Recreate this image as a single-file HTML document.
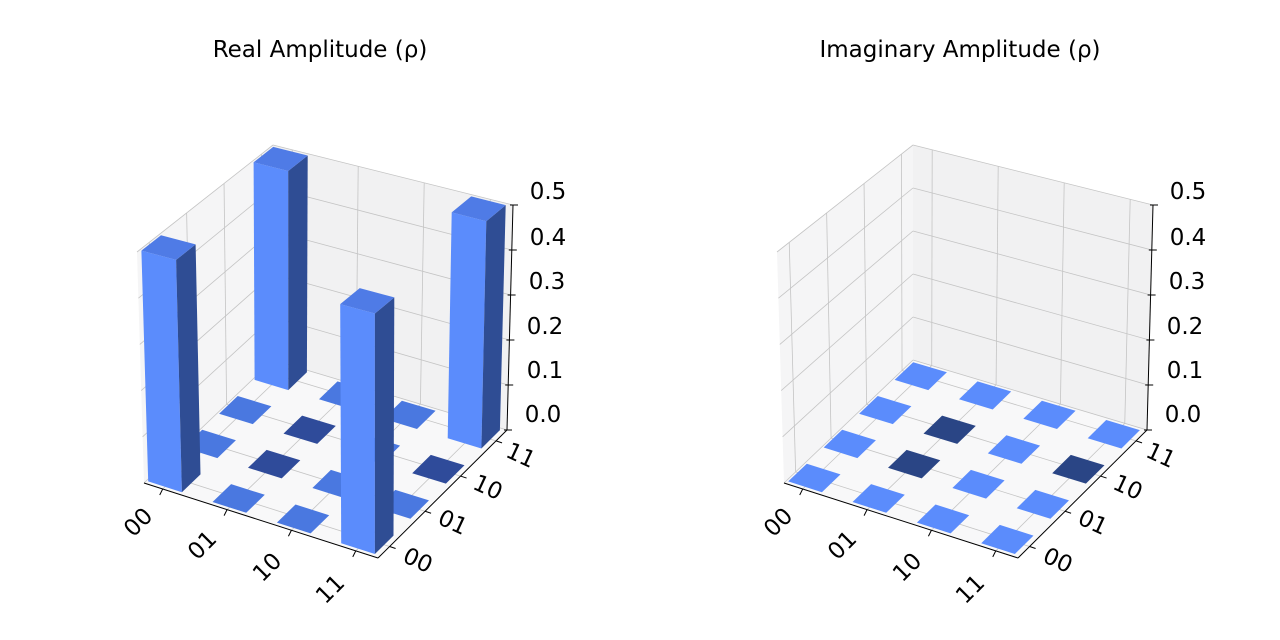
<!DOCTYPE html>
<html><head><meta charset="utf-8"><style>
html,body{margin:0;padding:0;background:#fff}
svg{display:block}
text{font-family:"DejaVu Sans","Liberation Sans",sans-serif;fill:#000}
</style></head><body>
<svg id="s" width="1280" height="640" xmlns="http://www.w3.org/2000/svg">
<rect width="1280" height="640" fill="#fff"/>
<text x="320" y="57" font-size="23" text-anchor="middle">Real Amplitude (ρ)</text>
<text x="960" y="57" font-size="23" text-anchor="middle">Imaginary Amplitude (ρ)</text>
</svg>
<script>
const S=document.getElementById('s');
function el(t,a,txt){const e=document.createElementNS('http://www.w3.org/2000/svg',t);for(const k in a)e.setAttribute(k,a[k]);if(txt!==undefined)e.textContent=txt;S.appendChild(e);return e;}
function plot(ox,bars,tiles){
 const F={FL:[784,483],FR:[1018,558],BR:[1147,430],BL:[913,360]};
 const T={FL:[777,252],FR:[1018,317],BR:[1153,205],BL:[913,145]};
 function bil(C,u,v){const a=C.FL,b=C.FR,c=C.BR,d=C.BL;
  return [(1-u)*(1-v)*a[0]+u*(1-v)*b[0]+u*v*c[0]+(1-u)*v*d[0]-640+ox,(1-u)*(1-v)*a[1]+u*(1-v)*b[1]+u*v*c[1]+(1-u)*v*d[1]];}
 function P(u,v,z){const f=bil(F,u,v),t=bil(T,u,v);const k=z/0.5;return [f[0]+(t[0]-f[0])*k,f[1]+(t[1]-f[1])*k];}
 function poly(pts,fill,extra){el('polygon',Object.assign({points:pts.map(p=>p.map(n=>n.toFixed(1)).join(',')).join(' '),fill:fill},extra||{}));}
 function line(a,b,st,w){el('line',{x1:a[0],y1:a[1],x2:b[0],y2:b[1],stroke:st,'stroke-width':w||0.8});}
 poly([P(0,0,0),P(0,1,0),P(0,1,.5),P(0,0,.5)],'#f5f5f6');
 poly([P(0,1,0),P(1,1,0),P(1,1,.5),P(0,1,.5)],'#f1f1f2');
 poly([P(0,0,0),P(1,0,0),P(1,1,0),P(0,1,0)],'#f8f8f9');
 const ut=[0.08,0.355,0.63,0.905], vt=[0.09,0.365,0.64,0.915], zt=[0,.1,.2,.3,.4,.5];
 const g='#c4c4c4';
 ut.forEach(u=>{line(P(u,0,0),P(u,1,0),g);line(P(u,1,0),P(u,1,.5),g);});
 vt.forEach(v=>{line(P(0,v,0),P(1,v,0),g);line(P(0,v,0),P(0,v,.5),g);});
 zt.forEach(z=>{line(P(0,0,z),P(0,1,z),g);line(P(0,1,z),P(1,1,z),g);});
 line(P(0,0,0),P(1,0,0),'#000',1);
 line(P(1,0,0),P(1,1,0),'#000',1);
 line(P(1,1,0),P(1,1,.5),'#000',1);
 ut.forEach(u=>{const a=P(u,0,0);line(a,[a[0]-3,a[1]+6],'#000',1);});
 vt.forEach(v=>{const a=P(1,v,0);line(a,[a[0]+6,a[1]+2],'#000',1);});
 zt.forEach(z=>{const a=P(1,1,z);line([a[0]-3,a[1]],[a[0]+5,a[1]],'#000',1);});
 const hw=0.072;
 const items=[];
 for(let j=3;j>=0;j--)for(let i=0;i<4;i++){items.push([i,j]);}
 items.forEach(([i,j])=>{
  const cu=ut[i],cv=vt[j],u0=cu-hw,u1=cu+hw,v0=cv-hw,v1=cv+hw;
  const key=i+','+j;
  if(bars[key]){const h=bars[key];
   poly([P(u0,v0,0),P(u1,v0,0),P(u1,v0,h),P(u0,v0,h)],'#5b8cfc');
   poly([P(u1,v0,0),P(u1,v1,0),P(u1,v1,h),P(u1,v0,h)],'#2f4d94');
   poly([P(u0,v0,h),P(u1,v0,h),P(u1,v1,h),P(u0,v1,h)],'#4f7be6');
  } else {
   poly([P(u0,v0,0),P(u1,v0,0),P(u1,v1,0),P(u0,v1,0)],tiles[key]||tiles.def);
  }
 });
 const lx=['00','01','10','11'];
 const xc=[[138,522],[202,545],[267,567],[330,589]];
 xc.forEach((c,k)=>{el('text',{x:c[0]+ox,y:c[1]+8,'font-size':23,'text-anchor':'middle',transform:`rotate(-45 ${c[0]+ox} ${c[1]})`},lx[k]);});
 const yc=[[418,560],[453,522],[488,487],[521,455]];
 yc.forEach((c,k)=>{el('text',{x:c[0]+ox,y:c[1]+8,'font-size':23,'text-anchor':'middle',transform:`rotate(25 ${c[0]+ox} ${c[1]})`},lx[k]);});
 const zc=[[543,414,'0.0'],[545,370,'0.1'],[545,326,'0.2'],[547,281,'0.3'],[548,237,'0.4'],[548,191,'0.5']];
 zc.forEach(c=>{el('text',{x:c[0]+ox,y:c[1]+8,'font-size':23,'text-anchor':'middle'},c[2]);});
}
const LD='#2f4b9a',LL='#4a78e0';
plot(0,{'0,0':.5,'0,3':.5,'3,0':.5,'3,3':.5},{def:LL,'1,1':LD,'1,2':LD,'3,2':LD});
const RD='#2a4585',RL='#5b8cfc';
plot(640,{},{def:RL,'1,1':RD,'1,2':RD,'3,2':RD});
</script>
</body></html>
